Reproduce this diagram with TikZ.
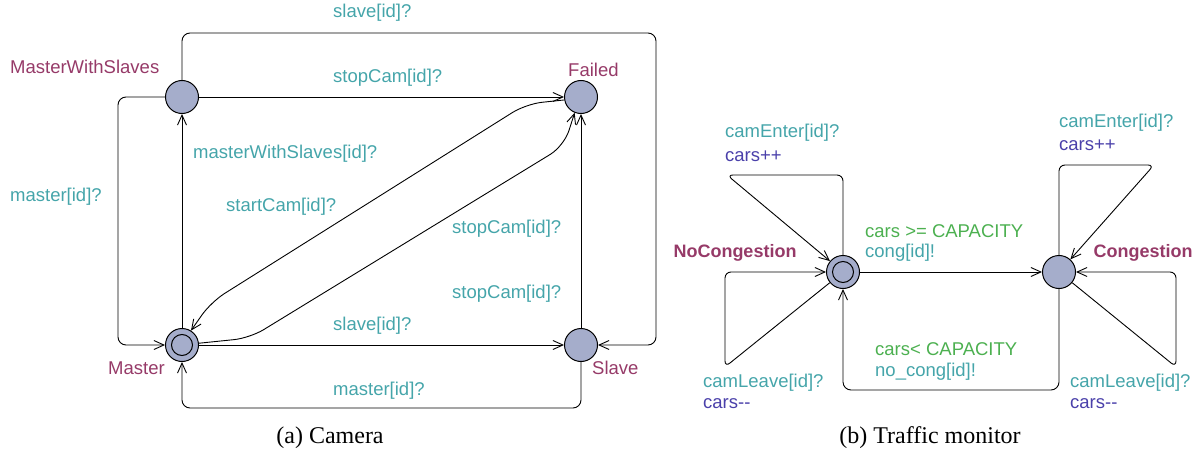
\documentclass[tikz,border=0pt]{standalone}
\usepackage{fontspec}
\setmainfont{Liberation Serif}
\newfontfamily\labfont{Liberation Sans}
\usetikzlibrary{arrows.meta}
\definecolor{locfill}{HTML}{A5ADCB}
\definecolor{locname}{HTML}{963A68}
\definecolor{synccol}{HTML}{45A5AA}
\definecolor{updcol}{HTML}{4A40AA}
\definecolor{guardcol}{HTML}{4CB050}
\begin{document}
\begin{tikzpicture}[x=1pt,y=-1pt,
  loc/.style={circle,draw,fill=locfill,minimum size=33pt,inner sep=0pt,line width=1pt},
  initloc/.style={circle,draw,minimum size=21pt,inner sep=0pt,line width=1pt},
  edge/.style={line width=0.9pt,rounded corners=8pt,-{Straight Barb[length=10pt,width=9pt,line width=0.9pt]}},
  txt/.style={font=\labfont\fontsize{18.5}{20}\selectfont,inner sep=0pt,anchor=west},
  sync/.style={txt,text=synccol},
  upd/.style={txt,text=updcol},
  guard/.style={txt,text=guardcol},
  lname/.style={txt,text=locname},
  bname/.style={font=\labfont\bfseries\fontsize{18}{20}\selectfont,inner sep=0pt,text=locname},
  capt/.style={font=\fontsize{24}{26}\selectfont,inner sep=0pt}
]
\useasboundingbox (0,0) rectangle (1200,452);
% ---------- Camera ----------
\node[loc] (mws) at (182,97) {};
\node[loc] (failed) at (581,97) {};
\node[loc] (master) at (182,345) {};
\node[initloc] (masterin) at (182,345) {};
\node[loc] (slave) at (581,345) {};

\node[lname] (nmws) at (10,67) {MasterWithSlaves};
\node[lname] (nfailed) at (568,70) {Failed};
\node[lname] (nmaster) at (108,368) {Master};
\node[lname] (nslave) at (592,368) {Slave};

\draw[edge] (mws.north) -- (182,33) -- (656,33) -- (656,345) -- (slave.east);
\draw[edge] (mws.east) -- (failed.west);
\draw[edge] (master.north) -- (mws.south);
\draw[edge] (mws.west) -- (118,97) -- (118,345) -- (master.west);
\draw[edge,rounded corners=16pt] (failed.190) -- (526,104) -- (211,302) -- (master.58);
\draw[edge,rounded corners=16pt] (master.6) -- (250,338) -- (564,146) -- (failed.248);
\draw[edge] (master.east) -- (slave.west);
\draw[edge] (slave.south) -- (581,408) -- (182,408) -- (master.south);
\draw[edge] (slave.north) -- (failed.south);

\node[sync] (l1) at (333,13) {slave[id]?};
\node[sync] (l2) at (333,78) {stopCam[id]?};
\node[sync] (l3) at (193,154) {masterWithSlaves[id]?};
\node[sync] (l4) at (10,197) {master[id]?};
\node[sync] (l5) at (226,207) {startCam[id]?};
\node[sync] (l6) at (452,229) {stopCam[id]?};
\node[sync] (l7) at (452,294) {stopCam[id]?};
\node[sync] (l8) at (333,326) {slave[id]?};
\node[sync] (l9) at (333,391) {master[id]?};

\node[capt] (capa) at (330,438) {(a) Camera};

% ---------- Traffic monitor ----------
\node[loc] (nocong) at (843,272) {};
\node[initloc] (nocongin) at (843,272) {};
\node[loc] (cong) at (1059,272) {};

\node[bname] (nnocong) at (735,253) {NoCongestion};
\node[bname] (ncong) at (1143,253) {Congestion};

\draw[edge,rounded corners=6pt] (nocong.north) -- (843,175) -- (727,175) -- (nocong.140);
\draw[edge,rounded corners=6pt] (nocong.219) -- (725,367) -- (725,272) -- (nocong.west);
\draw[edge] (nocong.east) -- (cong.west);
\draw[edge] (cong.south) -- (1059,390) -- (843,390) -- (nocong.south);
\draw[edge,rounded corners=6pt] (cong.north) -- (1059,165) -- (1154,165) -- (cong.48);
\draw[edge,rounded corners=6pt] (cong.-39) -- (1176,367) -- (1176,272) -- (cong.east);

\node[sync] (t1) at (725,133) {camEnter[id]?};
\node[upd] (t2) at (725,156) {cars++};
\node[guard] (t3) at (865,231) {cars >= CAPACITY};
\node[sync] (t4) at (865,253) {cong[id]!};
\node[guard] (t5) at (875,349) {cars< CAPACITY};
\node[sync] (t6) at (875,372) {no\_cong[id]!};
\node[sync] (t7) at (703,383) {camLeave[id]?};
\node[upd] (t8) at (703,404) {cars--};
\node[sync] (t9) at (1059,123) {camEnter[id]?};
\node[upd] (t10) at (1059,145) {cars++};
\node[sync] (t11) at (1070,383) {camLeave[id]?};
\node[upd] (t12) at (1070,404) {cars--};

\node[capt] (capb) at (930,438) {(b) Traffic monitor};
\end{tikzpicture}
\end{document}
